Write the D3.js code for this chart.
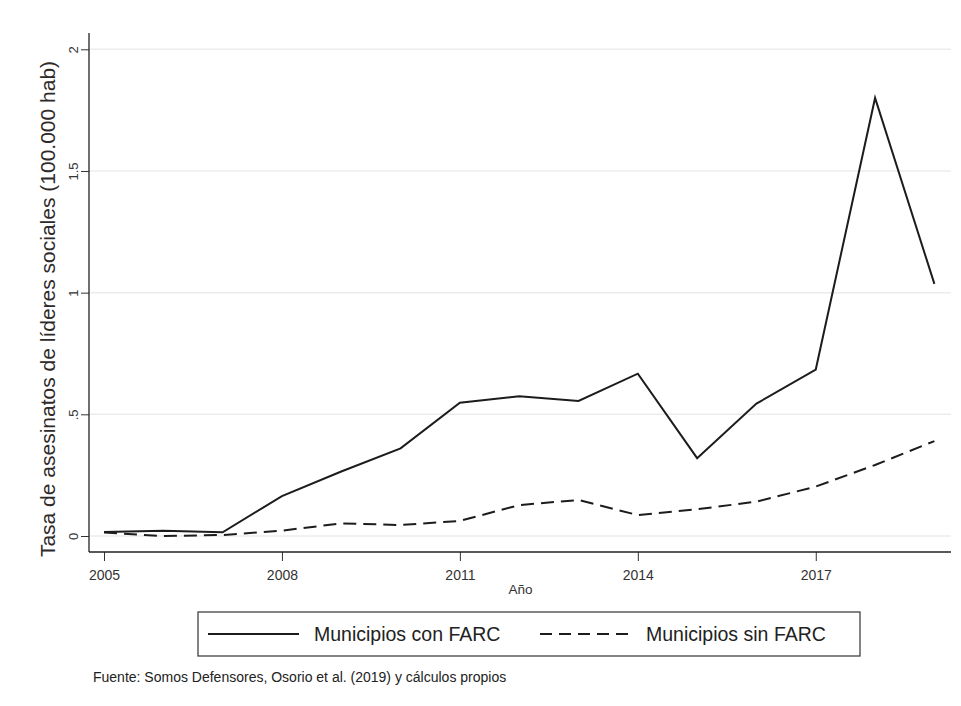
<!DOCTYPE html>
<html>
<head>
<meta charset="utf-8">
<script src="https://cdn.jsdelivr.net/npm/d3@7"></script>
<style>
  html, body { margin: 0; padding: 0; background: #fff; }
  svg { display: block; font-family: "Liberation Sans", Arial, sans-serif; }
</style>
</head>
<body>
<svg id="chart" width="961" height="706"></svg>
<script>
const years = [2005, 2006, 2007, 2008, 2009, 2010, 2011, 2012, 2013, 2014, 2015, 2016, 2017, 2018, 2019];
const conFARC = [0.016, 0.022, 0.015, 0.164, 0.265, 0.36, 0.548, 0.574, 0.555, 0.667, 0.32, 0.544, 0.684, 1.80, 1.036];
const sinFARC = [0.014, 0.0, 0.004, 0.022, 0.052, 0.045, 0.062, 0.127, 0.148, 0.086, 0.11, 0.141, 0.203, 0.292, 0.39];
const xTicks = [2005, 2008, 2011, 2014, 2017];
const yTicks = [0, 0.5, 1, 1.5, 2];
const yTickLabels = ["0", ".5", "1", "1.5", "2"];
const seriesNames = ["Municipios con FARC", "Municipios sin FARC"];
const yTitle = "Tasa de asesinatos de líderes sociales (100.000 hab)";
const xTitle = "Año";
const source = "Fuente: Somos Defensores, Osorio et al. (2019) y cálculos propios";

(function () {
const svg = d3.select("#chart");
const pL = 89, pR = 951, pT = 33, pB = 552;

const x = d3.scaleLinear().domain([2004.747, 2019.28]).range([pL, pR]);
const y = d3.scaleLinear().domain([0, 2]).range([536, 49.3]);

// gridlines
svg.append("g").selectAll("line").data(yTicks).join("line")
  .attr("x1", pL + 1).attr("x2", pR)
  .attr("y1", d => y(d)).attr("y2", d => y(d))
  .attr("stroke", "#ececec").attr("stroke-width", 1.5);

// y axis
const yAxis = svg.append("g").attr("transform", `translate(${pL},0)`)
  .call(d3.axisLeft(y).tickValues(yTicks).tickSize(8).tickFormat((d, i) => yTickLabels[i]));
yAxis.select(".domain").remove();
yAxis.append("line").attr("x1", 0).attr("x2", 0).attr("y1", pT).attr("y2", pB)
  .attr("stroke", "#222").attr("stroke-width", 1.3);
yAxis.selectAll(".tick line").attr("stroke", "#333");
yAxis.selectAll(".tick text")
  .attr("font-size", 13).attr("fill", "#333")
  .attr("x", 0).attr("y", 0).attr("dy", 0)
  .attr("text-anchor", "middle")
  .attr("transform", "translate(-11,0) rotate(-90)");

// x axis
const xAxis = svg.append("g").attr("transform", `translate(0,${pB})`)
  .call(d3.axisBottom(x).tickValues(xTicks).tickSize(9).tickFormat(d3.format("d")));
xAxis.select(".domain").remove();
xAxis.append("line").attr("x1", pL).attr("x2", pR).attr("y1", 0).attr("y2", 0)
  .attr("stroke", "#222").attr("stroke-width", 1.3);
xAxis.selectAll(".tick line").attr("stroke", "#333");
xAxis.selectAll(".tick text").attr("font-size", 14).attr("fill", "#333")
  .attr("y", 28).attr("dy", 0);

// titles
svg.append("text")
  .attr("transform", `translate(55,309) rotate(-90)`)
  .attr("text-anchor", "middle")
  .attr("font-size", 21).attr("fill", "#2e2a2a")
  .text(yTitle);
svg.append("text")
  .attr("x", 520.5).attr("y", 594)
  .attr("text-anchor", "middle").attr("font-size", 13.5).attr("fill", "#333")
  .text(xTitle);

// lines
const line = d3.line().x((d, i) => x(years[i])).y(d => y(d));
svg.append("path").datum(conFARC).attr("d", line)
  .attr("fill", "none").attr("stroke", "#1c1c1c").attr("stroke-width", 2).attr("stroke-linejoin", "miter");
svg.append("path").datum(sinFARC).attr("d", line)
  .attr("fill", "none").attr("stroke", "#1c1c1c").attr("stroke-width", 2).attr("stroke-dasharray", "13,7");

// legend
const lg = svg.append("g");
lg.append("rect").attr("x", 198).attr("y", 612).attr("width", 662).attr("height", 44)
  .attr("fill", "#fff").attr("stroke", "#333").attr("stroke-width", 1.2);
const legendItems = [
  { x1: 208, x2: 299, tx: 314, dash: null },
  { x1: 540, x2: 633, tx: 646, dash: "12,7" }
];
legendItems.forEach((it, i) => {
  lg.append("line").attr("x1", it.x1).attr("x2", it.x2).attr("y1", 634).attr("y2", 634)
    .attr("stroke", "#1c1c1c").attr("stroke-width", 2)
    .attr("stroke-dasharray", it.dash);
  lg.append("text").attr("x", it.tx).attr("y", 634).attr("dy", "0.35em")
    .attr("font-size", 19.5).attr("fill", "#222").text(seriesNames[i]);
});

// source
svg.append("text").attr("x", 93).attr("y", 682)
  .attr("font-size", 14).attr("fill", "#222").text(source);
})();
</script>
</body>
</html>
